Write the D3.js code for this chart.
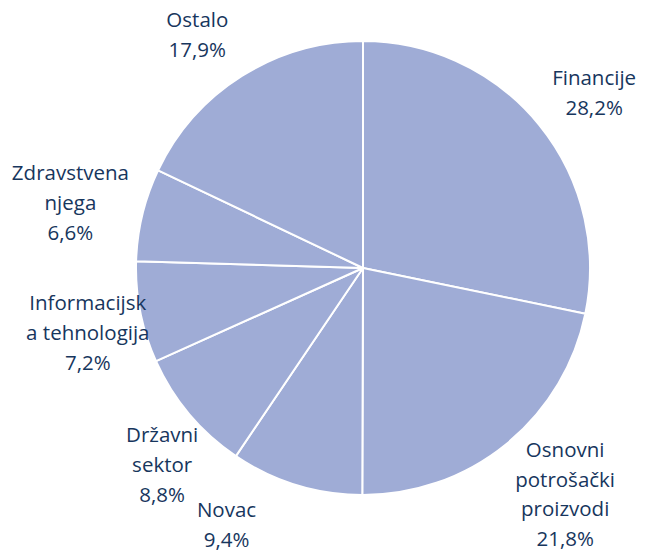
<!DOCTYPE html>
<html>
<head>
<meta charset="utf-8">
<script src="https://cdn.jsdelivr.net/npm/d3@7"></script>
<style>
  body { margin: 0; background: #fff; }
  .pie-label { font-family: "Open Sans", sans-serif; font-size: 20.5px; fill: #17365D; }
</style>
</head>
<body>
<div class="chart"></div>
<script>
// sectors, clockwise from 12 o'clock
const sectors = [
  ['Financije'],
  ['Osnovni', 'potrošački', 'proizvodi'],
  ['Novac'],
  ['Državni', 'sektor'],
  ['Informacijsk', 'a tehnologija'],
  ['Zdravstvena', 'njega'],
  ['Ostalo']
]
const shares = [28.2, 21.8, 9.4, 8.8, 7.2, 6.6, 17.9]
const shareLabels = ['28,2%', '21,8%', '9,4%', '8,8%', '7,2%', '6,6%', '17,9%']

const width = 646
const height = 551
const cx = 363
const cy = 268
const radius = 227
const lineH = 29.7

// hand nudges on top of the automatic placement, like Excel's "best fit"
const labelNudge = [[11, 4], [6, -1], [-57, 1], [21, 10], [20, 6], [-2, 5], [-20, -2]]

const data = shares.map((v, i) => ({ lines: sectors[i].concat([shareLabels[i]]), value: v }))

const svg = d3.select('.chart')
  .append('svg')
  .attr('width', width)
  .attr('height', height)

const pie = d3.pie()
  .sort(null)
  .value(d => d.value)

const arc = d3.arc()
  .innerRadius(0)
  .outerRadius(radius)

const arcs = pie(data)

const g = svg.append('g')
  .attr('transform', `translate(${cx},${cy})`)

g.selectAll('path')
  .data(arcs)
  .enter()
  .append('path')
  .attr('d', arc)
  .attr('fill', '#9FACD6')
  .attr('stroke', '#fff')
  .attr('stroke-width', 2)
  .attr('stroke-linejoin', 'round')

//=====================LABELS (pushed outside the pie)=====================

const labels = g.selectAll('g.lbl')
  .data(arcs)
  .enter()
  .append('g')
  .attr('class', 'lbl')

const clears = (x, y, bb, pad) => {
  // nearest point of the text box to the centre
  const nx = Math.max(x + bb.x, Math.min(0, x + bb.x + bb.width))
  const ny = Math.max(y + bb.y, Math.min(0, y + bb.y + bb.height))
  return Math.hypot(nx, ny) > radius + pad
}

labels.each(function(d, idx) {
  const grp = d3.select(this)
  const n = d.data.lines.length
  d.data.lines.forEach((t, i) => {
    grp.append('text')
      .attr('class', 'pie-label')
      .attr('text-anchor', 'middle')
      .attr('y', (i - (n - 1) / 2) * lineH)
      .attr('dy', '0.35em')
      .text(t)
  })
  const bb = this.getBBox()
  const mid = (d.startAngle + d.endAngle) / 2
  const pad = 6
  let x, y
  for (let dist = radius; dist < radius + 200; dist += 1) {
    x = Math.sin(mid) * dist
    y = -Math.cos(mid) * dist
    if (clears(x, y, bb, pad)) break
  }
  // keep inside the picture
  const maxY = height - cy - (bb.y + bb.height) + 2
  if (y > maxY) y = maxY
  x += labelNudge[idx][0]
  y = Math.min(maxY, y + labelNudge[idx][1])
  grp.attr('transform', `translate(${x},${y})`)
})
</script>
</body>
</html>
